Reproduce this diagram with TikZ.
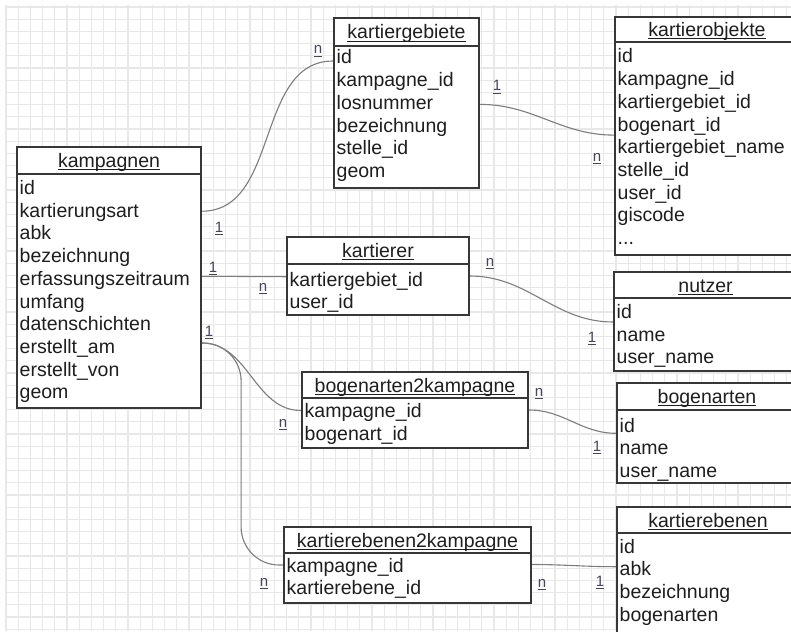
\documentclass[tikz,border=0pt]{standalone}
\usepackage{fontspec}
\setmainfont{Liberation Sans}
\usetikzlibrary{calc}
\pgfdeclarelayer{gridlayer}
\pgfdeclarelayer{edgelayer}
\pgfdeclarelayer{nodelayer}
\pgfsetlayers{gridlayer,edgelayer,nodelayer,main}
\definecolor{boxline}{RGB}{55,55,55}
\definecolor{linkgray}{RGB}{125,125,125}
\definecolor{gridgray}{RGB}{232,232,232}
\definecolor{cardgray}{RGB}{70,70,90}
\definecolor{textdark}{RGB}{30,30,30}
% underline at a fixed depth, not below the descenders
\newcommand{\tabtitle}[1]{\setbox0\hbox{#1}\rlap{\rule[-2.8pt]{\wd0}{1pt}}\box0}
\tikzstyle{table_head}=[rectangle,fill=white,draw=boxline,line width=1.8pt,inner sep=0pt,text height=16pt,text depth=2pt,text=textdark,font={\fontsize{19.5}{22}\selectfont}]
\tikzstyle{table_body}=[rectangle,fill=white,draw=boxline,line width=1.8pt,inner sep=0pt]
\tikzstyle{field}=[anchor=west,inner sep=0pt,text height=15pt,text depth=5pt,text=textdark,font={\fontsize{19.5}{22}\selectfont}]
\tikzstyle{card}=[inner sep=0pt,text height=11pt,text depth=3pt,text=cardgray,font={\fontsize{15}{17}\selectfont}]
\tikzstyle{link}=[draw=linkgray,line width=1.1pt]
\tikzstyle{grid_line}=[draw=gridgray,line width=1.2pt]

\begin{document}
\begin{tikzpicture}[x=1pt,y=-1pt]
	\useasboundingbox (0,0) rectangle (791,631);
	\begin{pgfonlayer}{gridlayer}
		\fill [white] (0,0) rectangle (791,631);
		\foreach \gx in {0,...,64}
			\draw [style=grid_line] ({6+12.2*\gx},5) -- ({6+12.2*\gx},631);
		\foreach \gy in {0,...,51}
			\draw [style=grid_line] (5,{7+12.2*\gy}) -- (791,{7+12.2*\gy});
	\end{pgfonlayer}
	\begin{pgfonlayer}{nodelayer}
		% kampagnen
		\node [style=table_body, minimum width=184, minimum height=234] (0) at (109, 291) {};
		\node [style=table_head, minimum width=184, minimum height=27] (h0) at (109, 160.5) {\tabtitle{kampagnen}};
		\node [style=field] (0-1) at (19.5, 189.5) {id};
		\node [style=field] (0-2) at (19.5, 212.2) {kartierungsart};
		\node [style=field] (0-3) at (19.5, 234.9) {abk};
		\node [style=field] (0-4) at (19.5, 257.6) {bezeichnung};
		\node [style=field] (0-5) at (19.5, 280.3) {erfassungszeitraum};
		\node [style=field] (0-6) at (19.5, 303) {umfang};
		\node [style=field] (0-7) at (19.5, 325.7) {datenschichten};
		\node [style=field] (0-8) at (19.5, 348.4) {erstellt\_am};
		\node [style=field] (0-9) at (19.5, 371.1) {erstellt\_von};
		\node [style=field] (0-10) at (19.5, 393.8) {geom};
		% kartiergebiete
		\node [style=table_body, minimum width=145, minimum height=142] (1) at (406.5, 117) {};
		\node [style=table_head, minimum width=145, minimum height=28] (h1) at (406.5, 32) {\tabtitle{kartiergebiete}};
		\node [style=field] (1-1) at (336.5, 59) {id};
		\node [style=field] (1-2) at (336.5, 81.7) {kampagne\_id};
		\node [style=field] (1-3) at (336.5, 104.4) {losnummer};
		\node [style=field] (1-4) at (336.5, 127.1) {bezeichnung};
		\node [style=field] (1-5) at (336.5, 149.8) {stelle\_id};
		\node [style=field] (1-6) at (336.5, 172.5) {geom};
		% kartierobjekte
		\node [style=table_body, minimum width=184, minimum height=213] (2) at (707, 148.5) {};
		\node [style=table_head, minimum width=184, minimum height=25] (h2) at (707, 29.5) {\tabtitle{kartierobjekte}};
		\node [style=field] (2-1) at (617.5, 58) {id};
		\node [style=field] (2-2) at (617.5, 80.7) {kampagne\_id};
		\node [style=field] (2-3) at (617.5, 103.4) {kartiergebiet\_id};
		\node [style=field] (2-4) at (617.5, 126.1) {bogenart\_id};
		\node [style=field] (2-5) at (617.5, 148.8) {kartiergebiet\_name};
		\node [style=field] (2-6) at (617.5, 171.5) {stelle\_id};
		\node [style=field] (2-7) at (617.5, 194.2) {user\_id};
		\node [style=field] (2-8) at (617.5, 216.9) {giscode};
		\node [style=field] (2-9) at (617.5, 239.6) {...};
		% kartierer
		\node [style=table_body, minimum width=182, minimum height=51] (3) at (378, 289.5) {};
		\node [style=table_head, minimum width=182, minimum height=27] (h3) at (378, 250.5) {\tabtitle{kartierer}};
		\node [style=field] (3-1) at (289.5, 281) {kartiergebiet\_id};
		\node [style=field] (3-2) at (289.5, 303.7) {user\_id};
		% nutzer
		\node [style=table_body, minimum width=183, minimum height=73] (4) at (705.5, 334.5) {};
		\node [style=table_head, minimum width=183, minimum height=26] (h4) at (705.5, 285) {\tabtitle{nutzer}};
		\node [style=field] (4-1) at (616.5, 313.5) {id};
		\node [style=field] (4-2) at (616.5, 336.2) {name};
		\node [style=field] (4-3) at (616.5, 358.9) {user\_name};
		% bogenarten2kampagne
		\node [style=table_body, minimum width=226, minimum height=50] (5) at (415, 423) {};
		\node [style=table_head, minimum width=226, minimum height=26] (h5) at (415, 385) {\tabtitle{bogenarten2kampagne}};
		\node [style=field] (5-1) at (304.5, 412.5) {kampagne\_id};
		\node [style=field] (5-2) at (304.5, 435.2) {bogenart\_id};
		% bogenarten
		\node [style=table_body, minimum width=180, minimum height=73] (6) at (707, 446.5) {};
		\node [style=table_head, minimum width=180, minimum height=27] (h6) at (707, 396.5) {\tabtitle{bogenarten}};
		\node [style=field] (6-1) at (619.5, 427) {id};
		\node [style=field] (6-2) at (619.5, 449.7) {name};
		\node [style=field] (6-3) at (619.5, 472.4) {user\_name};
		% kartierebenen2kampagne
		\node [style=table_body, minimum width=247, minimum height=50] (7) at (407.5, 578) {};
		\node [style=table_head, minimum width=247, minimum height=26] (h7) at (407.5, 540) {\tabtitle{kartierebenen2kampagne}};
		\node [style=field] (7-1) at (286.5, 567) {kampagne\_id};
		\node [style=field] (7-2) at (286.5, 589.7) {kartierebene\_id};
		% kartierebenen
		\node [style=table_body, minimum width=182, minimum height=107] (8) at (708, 586.5) {};
		\node [style=table_head, minimum width=182, minimum height=26] (h8) at (708, 520) {\tabtitle{kartierebenen}};
		\node [style=field] (8-1) at (619.5, 548) {id};
		\node [style=field] (8-2) at (619.5, 570.7) {abk};
		\node [style=field] (8-3) at (619.5, 593.4) {bezeichnung};
		\node [style=field] (8-4) at (619.5, 616.1) {bogenarten};
		% cardinalities
		\node [style=card] (c1) at (219, 228) {\tabtitle{1}};
		\node [style=card] (c2) at (318, 50) {\tabtitle{n}};
		\node [style=card] (c3) at (213, 268) {\tabtitle{1}};
		\node [style=card] (c4) at (263, 287) {\tabtitle{n}};
		\node [style=card] (c5) at (209, 332) {\tabtitle{1}};
		\node [style=card] (c6) at (283, 423) {\tabtitle{n}};
		\node [style=card] (c7) at (264, 582) {\tabtitle{n}};
		\node [style=card] (c8) at (497, 87) {\tabtitle{1}};
		\node [style=card] (c9) at (597, 157) {\tabtitle{n}};
		\node [style=card] (c10) at (490, 262) {\tabtitle{n}};
		\node [style=card] (c11) at (592, 338) {\tabtitle{1}};
		\node [style=card] (c12) at (539, 392) {\tabtitle{n}};
		\node [style=card] (c13) at (597, 447) {\tabtitle{1}};
		\node [style=card] (c14) at (542, 583) {\tabtitle{n}};
		\node [style=card] (c15) at (600, 582) {\tabtitle{1}};
	\end{pgfonlayer}
	\begin{pgfonlayer}{edgelayer}
		\draw [style=link, out=0, in=180] ($(0-2 -| 0.east)+(0,-1)$) to ($(1-1 -| 1.west)+(0,2)$);
		\draw [style=link, out=0, in=180] ($(0-5 -| 0.east)+(0,-4)$) to ($(3-1 -| 3.west)+(0,-4.3)$);
		\draw [style=link, out=0, in=180] ($(0-8 -| 0.east)+(0,-5.4)$) to ($(5-1 -| 5.west)+(0,-2)$);
		\draw [style=link, rounded corners=38] ($(0-8 -| 0.east)+(0,-5.4)$) -| ($(7-1 -| 7.west)+(-42,-2)$) -- ($(7-1 -| 7.west)+(0,-2)$);
		\draw [style=link, out=0, in=180] (1-3 -| 1.east) to ($(2-4 -| 2.west)+(0,9)$);
		\draw [style=link, out=0, in=180] ($(3-1 -| 3.east)+(0,-5)$) to ($(4-1 -| 4.west)+(0,8.5)$);
		\draw [style=link, out=0, in=180] ($(5-1 -| 5.east)+(0,-2.5)$) to ($(6-1 -| 6.west)+(0,6.3)$);
		\draw [style=link, out=0, in=180] ($(7-1 -| 7.east)+(0,-2.5)$) to ($(8-2 -| 8.west)+(0,-4)$);
	\end{pgfonlayer}
\end{tikzpicture}
\end{document}
